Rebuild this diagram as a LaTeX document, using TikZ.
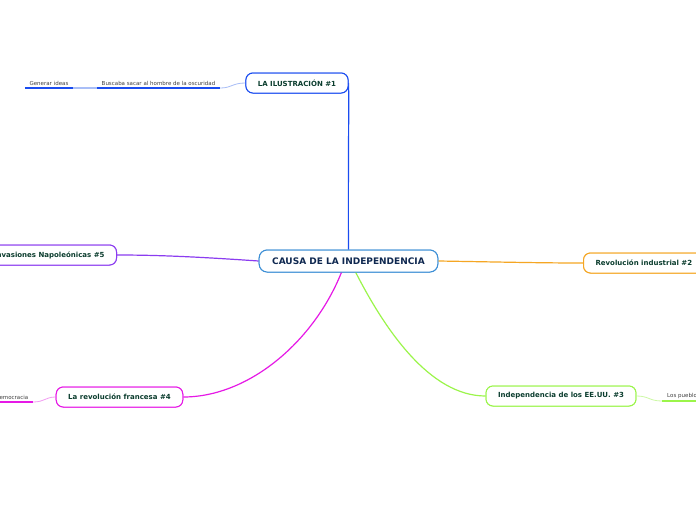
\documentclass[tikz,border=0pt]{standalone}
\usepackage{fontspec}
\setmainfont{DejaVu Sans}
\usetikzlibrary{calc}
\definecolor{cborder}{HTML}{3D8FD6}
\definecolor{ctext}{HTML}{0F2850}
\definecolor{btext}{HTML}{0B3D2E}
\definecolor{cblue}{HTML}{1A4CF0}
\definecolor{lblue}{HTML}{A9BEF7}
\definecolor{corange}{HTML}{F5A623}
\definecolor{cgreen}{HTML}{9BF54A}
\definecolor{lgreen}{HTML}{CDF9A5}
\definecolor{cmag}{HTML}{E619E6}
\definecolor{lmag}{HTML}{F29CF2}
\definecolor{cpurp}{HTML}{8B3CF0}
\tikzset{
  x=1pt,y=-1pt,
  mainbox/.style={draw=cborder,line width=1pt,rounded corners=8pt,fill=white,
    minimum height=22pt,inner xsep=13pt,inner ysep=0pt,text=ctext,
    font=\fontsize{9}{10}\selectfont\bfseries},
  branchbox/.style={draw=#1,line width=1pt,rounded corners=7pt,fill=white,
    minimum height=20pt,inner xsep=12pt,inner ysep=0pt,text=btext,
    font=\fontsize{7}{8}\selectfont\bfseries},
  subtext/.style={inner xsep=0pt,inner ysep=2.5pt,text=black!75,
    font=\fontsize{5.5}{6}\selectfont},
  conn/.style={draw=#1,line width=1.2pt},
  thinconn/.style={draw=#1,line width=0.8pt},
  uline/.style={draw=#1,line width=1.8pt},
}
\begin{document}
\begin{tikzpicture}
\useasboundingbox (0,0) rectangle (696,520);
\clip (0,0) rectangle (696,520);
\fill[white] (0,0) rectangle (696,520);

% connectors (drawn first, under the boxes)
\coordinate (c1s) at (348,250);
\coordinate (c3s) at (355,271);
\coordinate (c4s) at (342,271);

% nodes
\node[mainbox] (c) at (348.5,261) {CAUSA DE LA INDEPENDENCIA};
\node[branchbox=cblue] (n1) at (297,83) {LA ILUSTRACIÓN \#1};
\node[branchbox=corange,anchor=west] (n2) at (583,263) {Revolución industrial \#2};
\node[branchbox=cgreen] (n3) at (561,396) {Independencia de los EE.UU. \#3};
\node[branchbox=cmag] (n4) at (119.5,397) {La revolución francesa \#4};
\node[branchbox=cpurp,anchor=east] (n5) at (117,255) {Invasiones Napoleónicas \#5};

% sub-branch texts
\node[subtext,anchor=south,minimum width=123pt] (b1) at (158.5,88) {Buscaba sacar al hombre de la oscuridad};
\node[subtext,anchor=south,minimum width=48pt] (g1) at (49,88) {Generar ideas};
\node[subtext,anchor=south east,minimum width=42pt] (d4) at (33,402) {Democracia};
\node[subtext,anchor=south west,inner xsep=5pt] (l3) at (662,401) {Los pueblos};

% main connectors
\begin{scope}[on background layer/.style={}]
\end{scope}
\draw[conn=cblue] (c.north) .. controls (348,180) and (349,120) .. (n1.east);
\draw[conn=corange] (c.east) .. controls (500,262) and (540,263) .. (n2.west);
\draw[conn=cpurp] (c.west) .. controls (200,257) and (160,255) .. (n5.east);
\draw[conn=cgreen] (c3s) .. controls (385,330) and (430,396) .. (n3.west);
\draw[conn=cmag] (c4s) .. controls (315,340) and (250,397) .. (n4.east);

% sub connectors and underlines
\draw[thinconn=lblue] (n1.west) .. controls (232,83) and (232,88) .. (b1.south east);
\draw[uline=cblue] (b1.south west) -- (b1.south east);
\draw[thinconn=lblue,line width=1.2pt] (b1.south west) -- (g1.south east);
\draw[uline=cblue] (g1.south west) -- (g1.south east);
\draw[thinconn=lmag] (n4.west) .. controls (45,397) and (45,402) .. (d4.south east);
\draw[uline=cmag] (d4.south west) -- (d4.south east);
\draw[thinconn=lgreen] (n3.east) .. controls (649,396) and (649,401) .. (l3.south west);
\draw[uline=cgreen] (l3.south west) -- (l3.south east);

% redraw boxes on top of connectors
\node[mainbox] at (c) {CAUSA DE LA INDEPENDENCIA};
\node[branchbox=cblue] at (n1) {LA ILUSTRACIÓN \#1};
\node[branchbox=corange,anchor=west] at (583,263) {Revolución industrial \#2};
\node[branchbox=cgreen] at (n3) {Independencia de los EE.UU. \#3};
\node[branchbox=cmag] at (n4) {La revolución francesa \#4};
\node[branchbox=cpurp,anchor=east] at (117,255) {Invasiones Napoleónicas \#5};
\end{tikzpicture}
\end{document}
